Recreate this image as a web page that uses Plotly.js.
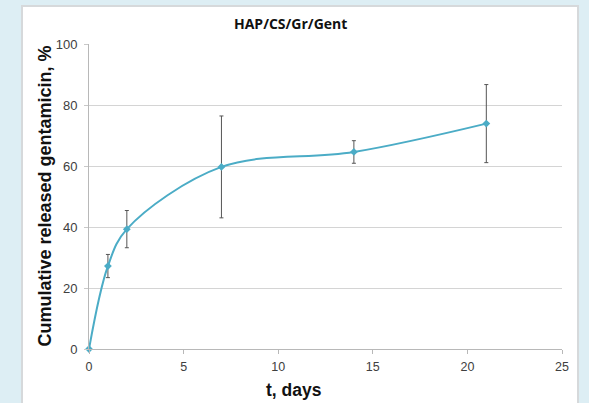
<!DOCTYPE html>
<html><head><meta charset="utf-8">
<script src="https://cdn.plot.ly/plotly-3.0.1.min.js"></script>
<style>
html,body{margin:0;padding:0;background:#ddeef4;width:589px;height:403px;overflow:hidden;}
#panel{position:absolute;left:21px;top:5px;width:554px;height:410px;background:#fff;border:2px solid #d6d9db;}
#chart{position:absolute;left:0;top:0;width:589px;height:403px;}
</style></head>
<body>
<div id="panel"></div>
<div id="chart"></div>
<script>
var days = [0, 1, 2, 7, 14, 21];
var released = [0, 27.2, 39.3, 59.7, 64.6, 73.9];
var errors = [0, 3.8, 6.1, 16.7, 3.7, 12.8];
var xTicks = [0, 5, 10, 15, 20, 25];
var yTicks = [0, 20, 40, 60, 80, 100];
var chartTitle = 'HAP/CS/Gr/Gent';
var xTitle = 't, days';
var yTitle = 'Cumulative released gentamicin, %';

var trace = {
  x: days, y: released, type: 'scatter', mode: 'lines+markers',
  line: {color: '#4bacc6', width: 2, shape: 'spline', smoothing: 1},
  marker: {symbol: 'diamond', size: 6, color: '#4bacc6'},
  error_y: {type: 'data', array: errors, visible: true, color: '#555555', thickness: 1, width: 2},
  showlegend: false, cliponaxis: false
};
var layout = {
  width: 589, height: 403,
  paper_bgcolor: 'rgba(0,0,0,0)', plot_bgcolor: 'rgba(0,0,0,0)',
  margin: {l: 89, r: 27, t: 44, b: 54},
  font: {family: 'Liberation Sans, Arial, sans-serif', color: '#404040', size: 12},
  xaxis: {range: [0, 25], tickvals: xTicks, showgrid: false, zeroline: false,
          showline: true, linecolor: '#b8b8b8', linewidth: 1,
          ticks: 'outside', ticklen: 4, tickcolor: '#b8b8b8',
          tickfont: {size: 12.5, color: '#404040'}, ticklabelstandoff: 2},
  yaxis: {range: [0, 100], tickvals: yTicks, showgrid: true, gridcolor: '#d4d4d4', gridwidth: 1,
          zeroline: false, showline: true, linecolor: '#b8b8b8', linewidth: 1,
          ticks: 'outside', ticklen: 4, tickcolor: '#c8c8c8',
          tickfont: {size: 13, color: '#404040'}, ticklabelstandoff: 4},
  annotations: [
    {text: '<b>' + chartTitle + '</b>', xref: 'paper', yref: 'paper', x: 0.425, y: 1.067,
     xanchor: 'center', yanchor: 'middle', showarrow: false,
     font: {family: 'Open Sans, Liberation Sans, sans-serif', size: 14, color: '#111'}},
    {text: '<b>' + xTitle + '</b>', xref: 'paper', yref: 'paper', x: 0.433, y: -0.134,
     xanchor: 'center', yanchor: 'middle', showarrow: false,
     font: {size: 17.5, color: '#111'}},
    {text: '<b>' + yTitle + '</b>', xref: 'paper', yref: 'paper', x: -0.0951, y: 0.5,
     xanchor: 'center', yanchor: 'middle', showarrow: false, textangle: -90,
     font: {size: 18, color: '#111'}}
  ]
};
Plotly.newPlot('chart', [trace], layout, {displayModeBar: false, staticPlot: true});
</script>
</body></html>
